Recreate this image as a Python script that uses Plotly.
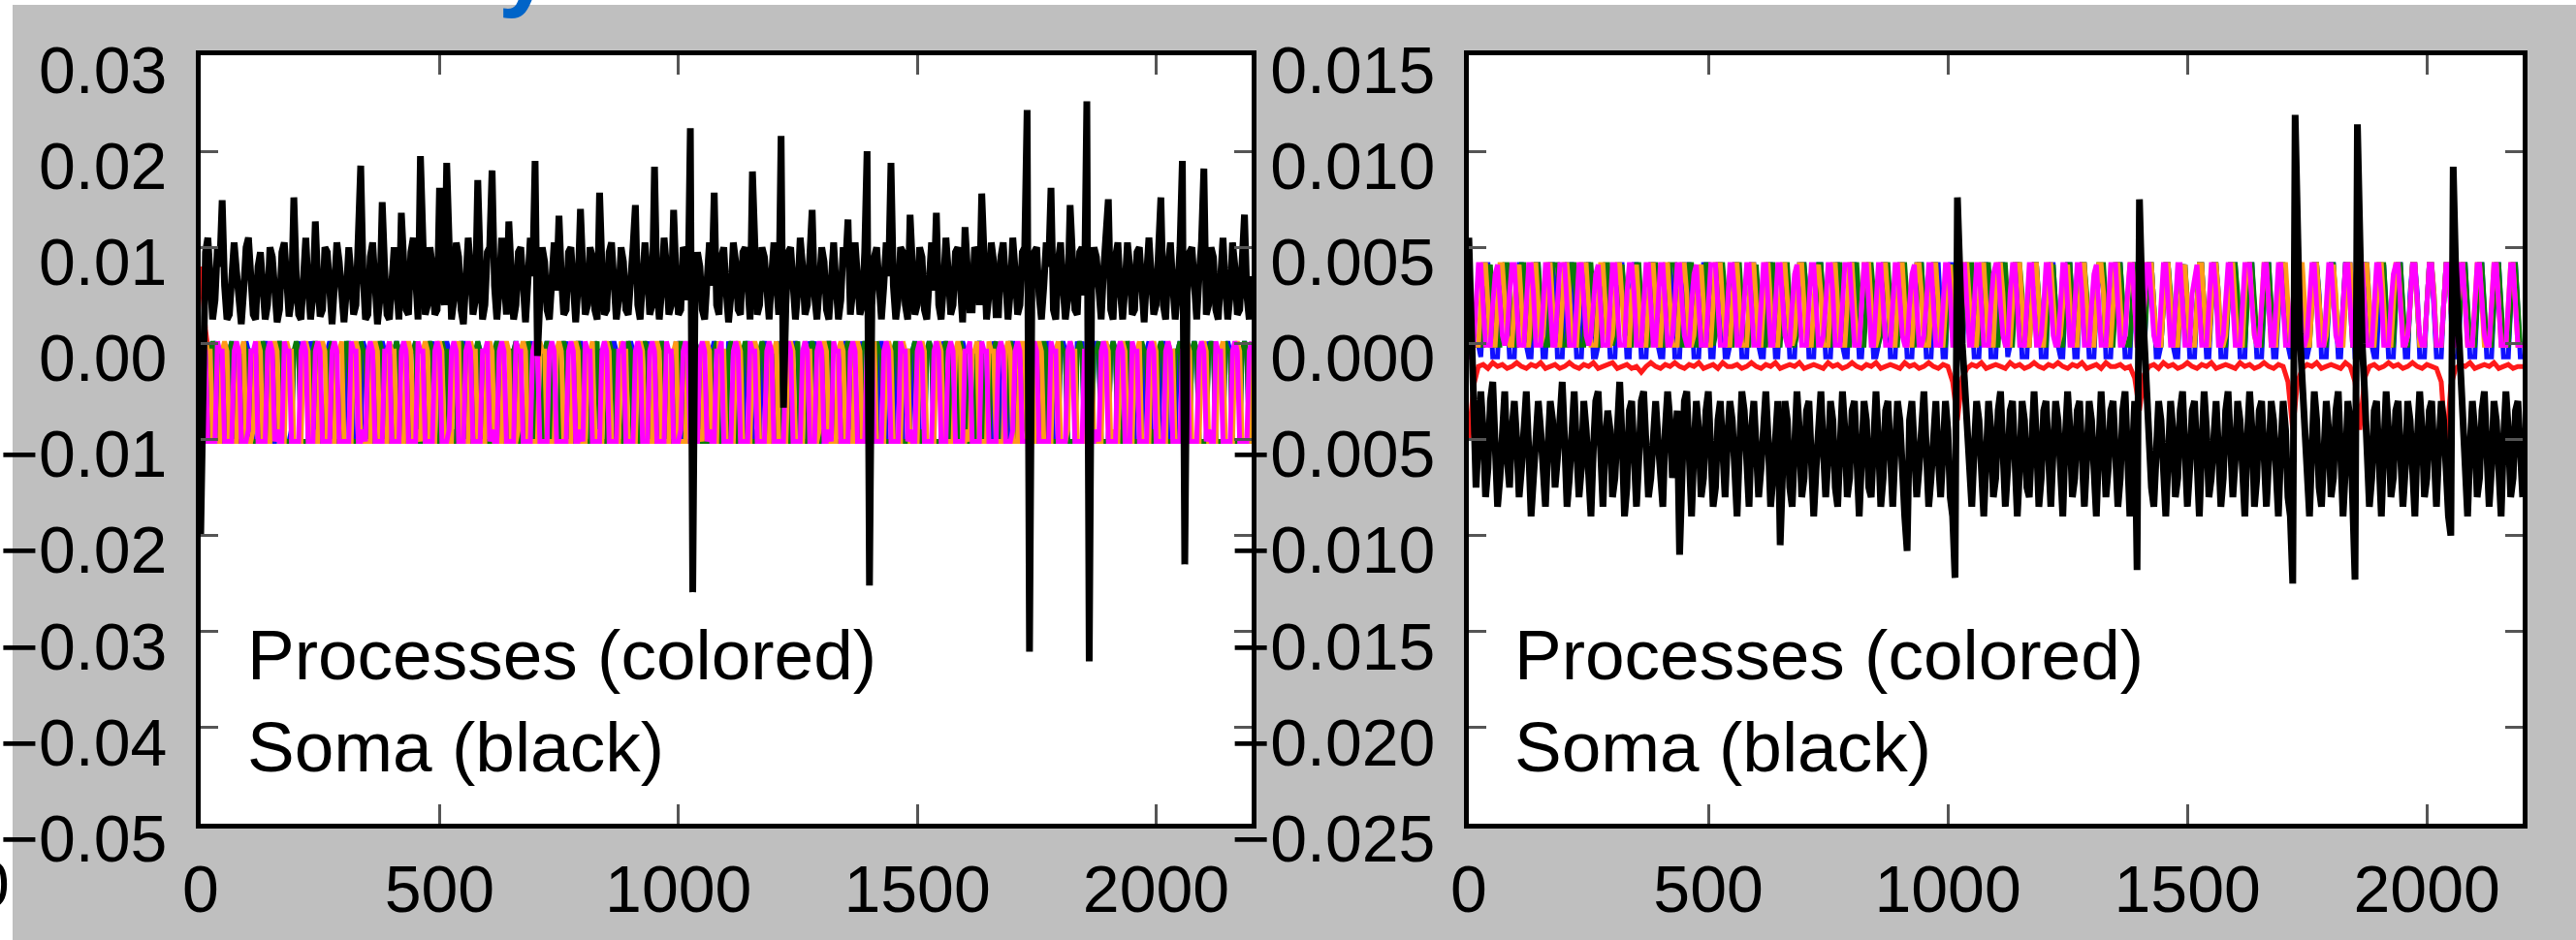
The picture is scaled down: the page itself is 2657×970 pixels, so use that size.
import plotly.graph_objects as go

# ---------------- data ----------------
STEP = 5  # time step of sampled traces
N = 441   # samples 0..2200

x_ticks = [0, 500, 1000, 1500, 2000]
y_ticks_left = [-0.05, -0.04, -0.03, -0.02, -0.01, 0.0, 0.01, 0.02, 0.03]
y_ticks_right = [-0.025, -0.020, -0.015, -0.010, -0.005, 0.0, 0.005, 0.010, 0.015]

# soma (black), left panel, units of 1e-4
soma_left = [
    -200, 20, 95, 110, 60, 25, 45, 100, 80, 149,
    60, 25, 30, 85, 105, 75, 35, 20, 55, 100,
    110, 70, 30, 25, 80, 95, 60, 25, 40, 100,
    90, 50, 22, 35, 95, 105, 65, 28, 45, 152,
    70, 30, 25, 80, 110, 60, 25, 50, 127, 65,
    28, 35, 100, 95, 45, 20, 60, 105, 85, 40,
    22, 55, 100, 70, 30, 40, 95, 185, 70, 25,
    30, 90, 105, 55, 20, 45, 147, 80, 30, 25,
    75, 100, 60, 25, 136, 85, 35, 30, 95, 110,
    50, 25, 195, 90, 30, 40, 100, 80, 30, 35,
    162, 60, 40, 188, 70, 25, 45, 105, 90, 35,
    20, 60, 110, 75, 30, 45, 170, 85, 25, 40,
    95, 100, 180, 60, 25, 55, 110, 70, 30, 127,
    60, 25, 40, 95, 100, 50, 22, 65, 110, 70,
    190, -13, 40, 100, 85, 35, 25, 80, 105, 55,
    133, 70, 30, 35, 95, 100, 45, 22, 60, 140,
    75, 30, 40, 100, 90, 35, 25, 157, 80, 30,
    35, 95, 105, 60, 25, 45, 100, 85, 35, 30,
    80, 100, 144, 40, 25, 60, 105, 75, 30, 40,
    184, 60, 25, 55, 110, 80, 30, 40, 139, 70,
    30, 35, 100, 95, 45, 224, -259, 60, 95, 80,
    35, 25, 80, 105, 60, 157, 40, 30, 90, 100,
    55, 22, 50, 105, 85, 35, 30, 95, 100, 50,
    25, 179, 70, 30, 40, 100, 90, 40, 25, 70,
    105, 65, 30, 216, -67, 40, 95, 100, 50, 25,
    55, 110, 80, 30, 40, 95, 139, 50, 25, 60,
    100, 85, 35, 25, 85, 105, 60, 25, 45, 100,
    80, 129, 30, 55, 105, 75, 30, 40, 95, 200,
    -252, 40, 90, 100, 50, 25, 60, 105, 70, 188,
    60, 25, 45, 100, 95, 40, 25, 134, 80, 30,
    40, 100, 90, 35, 25, 80, 105, 55, 136, 40,
    25, 60, 110, 75, 30, 40, 95, 100, 45, 22,
    121, 85, 35, 35, 100, 95, 40, 156, 60, 25,
    50, 105, 85, 30, 30, 90, 105, 55, 25, 55,
    110, 75, 30, 40, 95, 100, 243, -321, 60, 95,
    100, 50, 25, 60, 105, 80, 162, 35, 25, 85,
    105, 60, 25, 45, 144, 90, 35, 30, 95, 100,
    50, 252, -331, 55, 100, 90, 40, 25, 75, 110,
    150, 35, 25, 90, 105, 55, 25, 60, 105, 80,
    30, 35, 95, 100, 45, 22, 70, 110, 70, 30,
    40, 100, 152, 40, 25, 80, 105, 60, 25, 55,
    100, 190, -230, 50, 95, 100, 45, 25, 70, 105,
    182, 30, 40, 100, 90, 35, 25, 85, 110, 60,
    25, 50, 105, 80, 30, 35, 95, 134, 50, 25,
    70,
]

# soma (black), right panel, units of 1e-4
soma_right = [
    55, 20, -30, -75, -50, -25, -45, -80, -65, -30,
    -20, -55, -85, -70, -40, -25, -60, -75, -45, -30,
    -50, -80, -65, -35, -25, -55, -90, -70, -40, -30,
    -45, -70, -85, -55, -30, -40, -75, -60, -35, -20,
    -50, -85, -70, -40, -25, -55, -80, -65, -30, -45,
    -75, -90, -55, -30, -25, -60, -85, -50, -35, -45,
    -80, -70, -40, -20, -50, -90, -75, -35, -30, -60,
    -85, -60, -30, -25, -55, -80, -70, -40, -30, -50,
    -75, -85, -45, -25, -40, -70, -60, -35, -110, -60,
    -30, -25, -65, -90, -55, -30, -45, -80, -70, -35,
    -25, -50, -85, -75, -40, -30, -60, -80, -50, -30,
    -40, -75, -90, -55, -25, -35, -70, -85, -45, -30,
    -55, -80, -65, -35, -25, -50, -85, -70, -40, -30,
    -105, -60, -30, -40, -75, -85, -50, -25, -45, -80,
    -70, -35, -30, -60, -90, -65, -35, -25, -55, -80,
    -60, -30, -40, -75, -85, -50, -25, -45, -80, -70,
    -35, -30, -60, -90, -60, -30, -40, -75, -80, -45,
    -25, -50, -85, -70, -35, -30, -60, -85, -55, -30,
    -40, -75, -90, -108, -40, -30, -55, -80, -65, -35,
    -25, -55, -85, -70, -40, -30, -60, -80, -55, -30,
    -45, -80, -90, -122, 76, 30, 0, -20, -45, -75,
    -85, -55, -30, -40, -75, -90, -60, -30, -45, -80,
    -70, -35, -25, -55, -85, -65, -35, -30, -60, -90,
    -65, -30, -40, -75, -80, -45, -25, -50, -85, -70,
    -35, -30, -60, -85, -55, -30, -40, -75, -90, -50,
    -25, -45, -80, -70, -35, -30, -60, -85, -60, -30,
    -40, -75, -90, -55, -25, -50, -80, -65, -35, -30,
    -55, -85, -70, -35, -25, -55, -90, -60, -30, -118,
    75, 28, -2, -22, -45, -75, -85, -50, -30, -40,
    -75, -90, -60, -30, -45, -80, -70, -35, -25, -55,
    -85, -65, -35, -30, -60, -90, -55, -25, -45, -80,
    -70, -40, -30, -55, -85, -70, -35, -25, -50, -80,
    -60, -30, -40, -75, -90, -50, -25, -45, -85, -70,
    -35, -30, -60, -85, -60, -30, -40, -75, -90, -55,
    -30, -45, -80, -90, -125, 119, 35, 5, -20, -45,
    -75, -90, -55, -25, -40, -75, -85, -50, -30, -45,
    -80, -70, -35, -25, -55, -90, -65, -30, -40, -75,
    -123, 114, 32, 0, -25, -50, -85, -70, -35, -30,
    -60, -90, -55, -25, -45, -80, -70, -35, -30, -55,
    -85, -65, -30, -40, -75, -90, -50, -25, -45, -80,
    -70, -35, -30, -60, -85, -55, -30, -40, -75, -90,
    -100, 92, 40, 10, -18, -40, -75, -90, -55, -30,
    -45, -80, -70, -35, -25, -55, -85, -65, -30, -40,
    -75, -90, -50, -25, -45, -80, -70, -35, -30, -60,
    -80,
]

# processes, left panel: per-cycle level codes (see LEVEL_LEFT)
magenta_left = ["1019999", "0119999", "1019998", "1109999", "1019899", "0119999", "101999", "1019999", "10199999", "0119989",
                "1019999", "1109999", "1019999", "0119999", "1019998", "101999", "1019999", "1109899", "1019999", "0119999",
                "1019999", "10199999", "1019989", "0119999", "1019999", "1109999", "101999", "1019999", "0119998", "1019999",
                "1019899", "1109999", "1019999", "0119999", "10199999", "1019999", "101999", "1019989", "0119999", "1019999",
                "1109999", "1019999", "0119899", "1019999", "101999", "1019999", "1109999", "0119999", "1019998", "1019999",
                "10199999", "0119999", "1019999", "1109989", "1019999", "101999", "0119999", "1019999", "1019999", "1109999",
                "1019899", "0119999", "1019999", "1019999"]
orange_left = ["0119999", "1019999", "1109998", "1019999", "101999", "0119999", "1019899", "1019999", "1109999", "10199999",
               "1019999", "0119999", "1019989", "101999", "1019999", "1109999", "0119999", "1019999", "1019998", "10199999",
               "0119999", "1019999", "101999", "1109899", "1019999", "0119999", "1019999", "1019999", "1109999", "1019989",
               "101999", "0119999", "1019999", "10199999", "1109999", "1019999", "0119998", "1019999", "1019899", "101999",
               "1109999", "1019999", "0119999", "1019999", "10199999", "1019989", "1109999", "0119999", "101999", "1019999",
               "1019999", "1109998", "0119999", "1019999", "1019899", "101999", "1109999", "1019999", "0119999", "1019999",
               "1019999", "1109999", "1019999", "1019999"]
green_left = ["1019999", "1109999", "0119999", "1019989", "1019999", "10199999", "101999", "1109999", "1019999", "0119899",
              "1019999", "1019998", "1109999", "101999", "0119999", "1019999", "10199999", "1019999", "1109989", "0119999",
              "1019999", "101999", "1019999", "1109999", "0119999", "1019899", "1019999", "10199999", "1019999", "0119998",
              "1109999", "101999", "1019999", "1019999", "0119999", "1109999", "1019989", "10199999", "1019999", "101999",
              "0119999", "1019999", "1109899", "1019999", "1019999", "0119999", "101999", "1109999", "1019998", "1019999",
              "10199999", "0119999", "1019999", "1109999", "101999", "1019999", "0119989", "1019999", "1109999", "1019999",
              "1019999", "0119999", "1019999", "1019999"]
blue_left = ["0109999", "1019999", "0119999", "101999", "1019998", "1109999", "0109999", "10199999", "1019999", "0119989",
             "101999", "1019999", "1109999", "0109999", "1019899", "1019999", "0119999", "10199999", "101999", "1109999",
             "1019999", "0109998", "1019999", "0119999", "1019999", "101999", "1109899", "1019999", "0109999", "10199999",
             "1019999", "0119999", "1019989", "101999", "1109999", "1019999", "0109999", "1019999", "10199999", "0119999",
             "1019999", "1109998", "101999", "1019999", "0109999", "1019899", "1019999", "0119999", "10199999", "1109999",
             "101999", "1019999", "0109999", "1019999", "1019989", "0119999", "1109999", "1019999", "101999", "1019999",
             "0109999", "1019999", "1019999", "1019999"]
lead_left = {"magenta": "", "orange": "99", "green": "9999", "blue": "99999"}
LEVEL_LEFT = {0: 0.0002, 1: -0.0008, 8: -0.0090, 9: -0.0102}

# red process, left panel (mostly hidden), units of 1e-4
red_left_t = [0, 5, 10, 15, 20, 1010, 1020, 1025, 1030, 1035, 1045]
red_left_v = [80, 45, 15, -5, None, -8, -12, -40, -57, -25, -8]

# processes, right panel: per-cycle level codes (see LEVEL_RIGHT)
magenta_right = ["1599511", "1589521", "2699511", "1599611", "159951", "15999511", "1599521", "2589511", "1599511", "1699611",
                 "159951", "1599511", "2599521", "1589511", "15999511", "1599611", "2699511", "159951", "1599521", "1589511",
                 "1599511", "2599611", "15999511", "159951", "1699511", "1599521", "1589511", "2599511", "1599611", "159951",
                 "1599511", "15899521", "1699511", "1599511", "2599521", "159951", "1599611", "1589511", "15999511", "2699511",
                 "1599521", "159951", "1599511", "1689511", "1599611", "2599511", "15999521", "159951", "1599511", "1589611",
                 "2699511", "1599521", "159951", "1599511", "1599611", "15899511", "2599521", "1599511", "159951", "1699511",
                 "1599521", "1599511", "1599511", "1599511"]
orange_right = ["1599511", "1599521", "1589511", "159951", "2699511", "1599611", "15999511", "1599511", "2599521", "1689511",
                "159951", "1599511", "1599611", "2589511", "15999521", "1599511", "159951", "1699511", "1599521", "2599511",
                "1589611", "1599511", "159951", "15999511", "2699521", "1599511", "1599611", "159951", "1589511", "2599521",
                "1599511", "1699611", "15999511", "159951", "1599521", "2589511", "1599511", "1599611", "159951", "2699511",
                "15999521", "1599511", "1589511", "159951", "1599611", "2599511", "1699521", "1599511", "15999511", "159951",
                "1599521", "2589611", "1599511", "159951", "1699511", "1599521", "2599511", "1599611", "159951", "1599511",
                "1599511", "1599511", "1599511", "1599511"]
green_right = ["1589511", "1599611", "159951", "2599521", "15999511", "1699511", "1599521", "159951", "2589611", "1599511",
               "1599511", "15999521", "1699511", "159951", "2599611", "1599511", "1589521", "159951", "1599511", "2699611",
               "1599521", "15899511", "159951", "1599611", "2599511", "1699521", "159951", "1599511", "1589611", "15999521",
               "2599511", "159951", "1699611", "1599521", "1589511", "159951", "2599611", "15999511", "1599521", "159951",
               "1699511", "1599611", "2589521", "159951", "1599511", "15999611", "1599521", "159951", "2699511", "1589611",
               "1599521", "159951", "1599511", "2599611", "15999521", "159951", "1699511", "1599611", "1599511", "1599511",
               "1599511", "1599511", "1599511", "1599511"]
blue_right = ["0599500", "0589500", "0699510", "059950", "0599600", "05999500", "0599500", "1589500", "059950", "0699500",
              "0599510", "0589600", "05999500", "059950", "0599500", "1699500", "0599510", "059950", "0589500", "05999600",
              "0699500", "0599510", "059950", "0589500", "1599600", "0599500", "05999500", "059950", "0699510", "0589500",
              "0599600", "059950", "1599500", "05899500", "0699510", "059950", "0599500", "0589600", "05999500", "059950",
              "0699500", "1599510", "0589500", "059950", "0599600", "05999500", "0699500", "059950", "0589510", "0599500",
              "1699600", "059950", "05999500", "0599510", "0589500", "059950", "0699600", "0599500", "0599500", "0599500",
              "0599500", "0599500", "0599500", "0599500"]
lead_right = {"magenta": "00", "orange": "0011", "green": "001111", "blue": "11111"}
LEVEL_RIGHT = {0: -0.0007, 1: -0.0001, 2: 0.0004, 5: 0.0020, 6: 0.0026, 8: 0.0036, 9: 0.0041}

# red process, right panel, step 10, units of 1e-4
red_right = [
    -50, -22, -12, -11, -13, -10, -12, -11, -13, -12,
    -10, -12, -13, -11, -12, -10, -13, -12, -11, -13,
    -12, -10, -12, -13, -11, -12, -10, -13, -12, -11,
    -10, -13, -12, -11, -13, -12, -15, -12, -10, -12,
    -13, -11, -12, -10, -12, -13, -11, -12, -10, -13,
    -12, -11, -13, -10, -12, -12, -11, -13, -12, -10,
    -12, -13, -11, -12, -10, -13, -12, -11, -12, -10,
    -13, -12, -11, -12, -13, -10, -12, -11, -13, -12,
    -10, -12, -13, -11, -12, -10, -13, -12, -11, -12,
    -13, -10, -12, -11, -13, -12, -10, -12, -13, -11,
    -12, -20, -40, -18, -13, -11, -12, -10, -13, -12,
    -11, -12, -13, -10, -12, -11, -13, -12, -10, -12,
    -13, -11, -12, -10, -12, -13, -11, -12, -10, -13,
    -12, -11, -13, -10, -12, -12, -11, -13, -12, -18,
    -35, -16, -12, -11, -13, -10, -12, -11, -13, -12,
    -10, -12, -13, -11, -12, -10, -13, -12, -11, -12,
    -13, -10, -12, -11, -13, -12, -10, -12, -13, -11,
    -12, -20, -45, -20, -13, -11, -12, -10, -13, -12,
    -11, -12, -13, -10, -12, -20, -45, -18, -12, -11,
    -13, -12, -10, -12, -11, -13, -12, -10, -12, -13,
    -11, -12, -13, -20, -55, -22, -13, -11, -12, -10,
    -13, -12, -11, -12, -10, -13, -12, -11, -13, -12,
    -12,
]

COLORS = {"red": "#ff1a1a", "blue": "#1010ff", "green": "#0a7a0a",
          "orange": "#ff9a1a", "magenta": "#ff00ff", "black": "#000000"}
W_PROC = 5
W_SOMA = 7

# ---------------- figure ----------------
W, H = 2657, 970
FONT = "Liberation Sans, Arial, Helvetica, sans-serif"


def decode(cycles, lead, table):
    codes = [int(c) for c in lead + "".join(cycles)][:N]
    return [STEP * i for i in range(len(codes))], [table[c] for c in codes]


fig = go.Figure()

# left panel
fig.add_trace(go.Scatter(x=red_left_t, y=[None if v is None else v / 1e4 for v in red_left_v],
                         mode="lines", line=dict(color=COLORS["red"], width=W_PROC),
                         xaxis="x", yaxis="y", connectgaps=False))
for name, cyc in [("blue", blue_left), ("green", green_left), ("orange", orange_left), ("magenta", magenta_left)]:
    xs, ys = decode(cyc, lead_left[name], LEVEL_LEFT)
    fig.add_trace(go.Scatter(x=xs, y=ys, mode="lines", line=dict(color=COLORS[name], width=W_PROC),
                             xaxis="x", yaxis="y"))
fig.add_trace(go.Scatter(x=[STEP * i for i in range(len(soma_left))], y=[v / 1e4 for v in soma_left],
                         mode="lines", line=dict(color="black", width=W_SOMA), xaxis="x", yaxis="y"))

# right panel
fig.add_trace(go.Scatter(x=[10 * i for i in range(len(red_right))], y=[v / 1e4 for v in red_right],
                         mode="lines", line=dict(color=COLORS["red"], width=W_PROC), xaxis="x2", yaxis="y2"))
for name, cyc in [("blue", blue_right), ("green", green_right), ("orange", orange_right), ("magenta", magenta_right)]:
    xs, ys = decode(cyc, lead_right[name], LEVEL_RIGHT)
    fig.add_trace(go.Scatter(x=xs, y=ys, mode="lines", line=dict(color=COLORS[name], width=W_PROC),
                             xaxis="x2", yaxis="y2"))
fig.add_trace(go.Scatter(x=[STEP * i for i in range(len(soma_right))], y=[v / 1e4 for v in soma_right],
                         mode="lines", line=dict(color="black", width=W_SOMA), xaxis="x2", yaxis="y2"))

TICKFONT = dict(family=FONT, size=68, color="black")
common_x = dict(range=[0, 2200], tickvals=x_ticks, ticks="inside", ticklen=20, tickwidth=3,
                tickcolor="#555555", showline=True, linewidth=5, linecolor="black", mirror="ticks",
                showgrid=False, zeroline=False, tickfont=TICKFONT, ticklabelstandoff=4,
                automargin=False)
common_y = dict(ticks="inside", ticklen=18, tickwidth=3, tickcolor="#555555", showline=True,
                linewidth=5, linecolor="black", mirror="ticks", showgrid=False, zeroline=False,
                tickfont=TICKFONT, ticklabelstandoff=16, ticklabelshift=15, automargin=False)

y_dom = [1 - 850 / H, 1 - 57 / H]
fig.update_layout(
    width=W, height=H, margin=dict(l=0, r=0, t=0, b=0, autoexpand=False),
    paper_bgcolor="#bfbfbf", plot_bgcolor="white", showlegend=False,
    xaxis=dict(domain=[207 / W, 1291 / W], anchor="y", **common_x),
    yaxis=dict(domain=y_dom, anchor="x", range=[-0.05, 0.03], tickvals=y_ticks_left,
               tickformat=".2f", **common_y),
    xaxis2=dict(domain=[1515 / W, 2602 / W], anchor="y2", **common_x),
    yaxis2=dict(domain=y_dom, anchor="x2", range=[-0.025, 0.015], tickvals=y_ticks_right,
                tickformat=".3f", **common_y),
)

LABEL = "Processes (colored)<br>Soma (black)"
for x0 in (253, 1560):
    fig.add_annotation(text=LABEL, xref="paper", yref="paper", x=x0 / W, y=1 - 633 / H,
                       xanchor="left", yanchor="top", align="left", showarrow=False,
                       font=dict(family=FONT, size=73, color="black"))

# white edges of the cropped slide (kept beneath the tick labels)
fig.add_shape(type="rect", xref="paper", yref="paper", x0=0, x1=1, y0=1 - 5 / H, y1=1,
              line_width=0, fillcolor="white", layer="below")
fig.add_shape(type="rect", xref="paper", yref="paper", x0=0, x1=13 / W, y0=0, y1=1,
              line_width=0, fillcolor="white", layer="below")

# cut-off title glyph and cut-off tick label from the slide
fig.add_annotation(text="y", xref="paper", yref="paper", x=512 / W, y=1 - 21 / H,
                   xanchor="left", yanchor="bottom", showarrow=False,
                   font=dict(family=FONT, size=100, color="#0064c8", weight="bold"))
fig.add_annotation(text="0", xref="paper", yref="paper", x=12 / W, y=1 - 912 / H,
                   xanchor="right", yanchor="middle", showarrow=False,
                   font=dict(family=FONT, size=68, color="black"))

fig.write_html("out.html")
